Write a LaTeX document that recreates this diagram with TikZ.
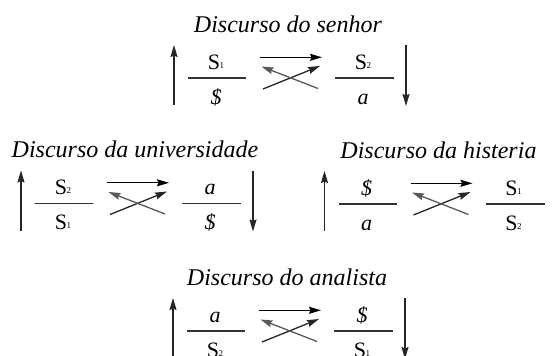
\documentclass[tikz,border=0pt]{standalone}
\usepackage{fontspec}
\setmainfont{Liberation Serif}
\usetikzlibrary{arrows.meta}
\newcommand\Ssub[1]{S\kern-0.3pt\raisebox{1pt}{\fontsize{9}{9}\selectfont #1}}
\newcommand\barS{\textit{\$}}
\newcommand\objA{\textit{a}}
\tikzset{
  tip/.style={-{Stealth[length=12pt,width=7pt,inset=1.5pt]}},
  vert/.style={tip,line width=1.3pt,black!85},
  horiz/.style={tip,line width=1.3pt,black},
  crossA/.style={tip,line width=1.3pt,black!85},
  crossB/.style={tip,line width=1.3pt,black!65},
  fracbar/.style={line width=1.3pt,black!80},
  term/.style={font=\fontsize{22}{22}\selectfont,inner sep=0pt,anchor=base},
  ttl/.style={font=\fontsize{24}{24}\selectfont\itshape,inner sep=0pt,anchor=base}
}
\newcommand\dblock[8]{%
\begin{scope}[shift={(#2,#3)}]
  \node[ttl] (#1-t) at (100,-46) {#4};
  \coordinate (#1-ub) at (-14,27); \coordinate (#1-ut) at (-14,-33);
  \draw[vert] (#1-ub) -- (#1-ut);
  \coordinate (#1-l1) at (0,0); \coordinate (#1-l2) at (58,0);
  \draw[fracbar] (#1-l1) -- (#1-l2);
  \node[term] (#1-n1) at (28,-9) {#5};
  \node[term] (#1-d1) at (28,26) {#6};
  \coordinate (#1-ha) at (72,-20.7); \coordinate (#1-hb) at (134,-20.7);
  \draw[horiz] (#1-ha) -- (#1-hb);
  \coordinate (#1-c1a) at (75,11); \coordinate (#1-c1b) at (132,-12);
  \draw[crossA] (#1-c1a) -- (#1-c1b);
  \coordinate (#1-c2a) at (130,10.5); \coordinate (#1-c2b) at (73.5,-11.5);
  \draw[crossB] (#1-c2a) -- (#1-c2b);
  \coordinate (#1-r1) at (147,0); \coordinate (#1-r2) at (206,0);
  \draw[fracbar] (#1-r1) -- (#1-r2);
  \node[term] (#1-n2) at (175,-9) {#7};
  \node[term] (#1-d2) at (175,26) {#8};
  \coordinate (#1-dt) at (218,-33); \coordinate (#1-db) at (218,28);
  \draw[vert] (#1-dt) -- (#1-db);
\end{scope}}
\begin{document}
\begin{tikzpicture}[x=1pt,y=-1pt]
\useasboundingbox (0,0) rectangle (552,356);
\dblock{sen}{188}{78}{Discurso do senhor}{\Ssub{1}}{\barS}{\Ssub{2}}{\objA}
\dblock{uni}{35}{203.5}{Discurso da universidade}{\Ssub{2}}{\Ssub{1}}{\objA}{\barS}
\dblock{his}{338.5}{204}{Discurso da histeria}{\barS}{\objA}{\Ssub{1}}{\Ssub{2}}
\dblock{ana}{187}{331}{Discurso do analista}{\objA}{\Ssub{2}}{\barS}{\Ssub{1}}
\end{tikzpicture}
\end{document}
